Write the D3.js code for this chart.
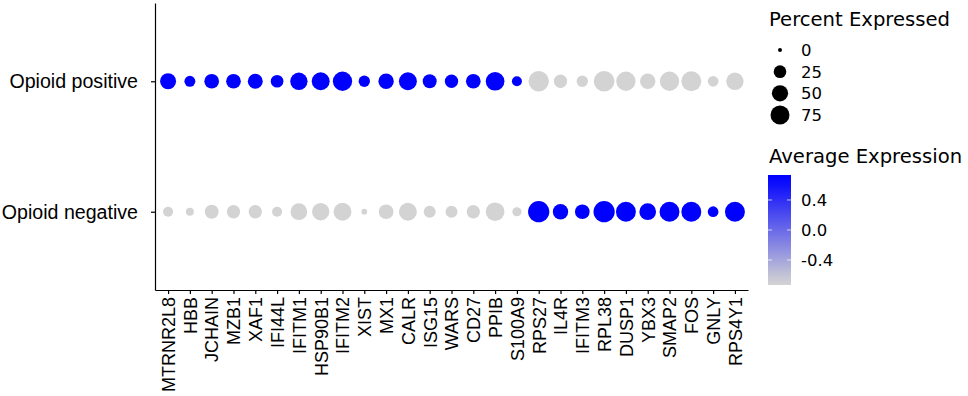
<!DOCTYPE html>
<html>
<head>
<meta charset="utf-8">
<script src="https://cdn.jsdelivr.net/npm/d3@7"></script>
<style>
  body { margin: 0; background: #fff; }
  svg { display: block; }
</style>
</head>
<body>
<svg id="chart"></svg>
<script>
const width = 968;
const height = 396;

// data
const genes = ["MTRNR2L8", "HBB", "JCHAIN", "MZB1", "XAF1", "IFI44L", "IFITM1", "HSP90B1", "IFITM2",
  "XIST", "MX1", "CALR", "ISG15", "WARS", "CD27", "PPIB", "S100A9", "RPS27", "IL4R", "IFITM3",
  "RPL38", "DUSP1", "YBX3", "SMAP2", "FOS", "GNLY", "RPS4Y1"];
const groups = ["Opioid positive", "Opioid negative"];

// percent expressed
const pctPositive = [48, 16, 38, 38, 40, 25, 59, 65, 78, 18, 43, 65, 33, 29, 38, 72, 12,
  89, 29, 18, 93, 78, 43, 78, 85, 15, 59];
const pctNegative = [12, 5, 33, 29, 29, 12, 54, 59, 65, 1, 38, 65, 21, 21, 29, 72, 9,
  99, 43, 38, 99, 85, 54, 85, 85, 15, 85];

// scaled average expression (two groups -> +/- 0.707)
const expPositive = [0.707, 0.707, 0.707, 0.707, 0.707, 0.707, 0.707, 0.707, 0.707, 0.707, 0.707,
  0.707, 0.707, 0.707, 0.707, 0.707, 0.707, -0.707, -0.707, -0.707, -0.707, -0.707, -0.707,
  -0.707, -0.707, -0.707, -0.707];
const expNegative = expPositive.map(v => -v);

const sizeBreaks = [0, 25, 50, 75];
const colorTicks = [0.4, 0.0, -0.4];

const margin = { top: 3, bottom: 106, left: 155, right: 220 };

const svg = d3.select("#chart")
  .attr("width", width)
  .attr("height", height);

const rows = [];
genes.forEach((g, i) => {
  rows.push({ gene: g, group: groups[0], pct: pctPositive[i], exp: expPositive[i] });
  rows.push({ gene: g, group: groups[1], pct: pctNegative[i], exp: expNegative[i] });
});

const xScale = d3.scalePoint()
  .domain(genes)
  .range([margin.left, width - margin.right])
  .padding(0.6);

const yScale = d3.scalePoint()
  .domain(groups)
  .range([margin.top, height - margin.bottom])
  .padding(0.6);

// radius ~ 2 + 0.866*sqrt(pct)
const rScale = p => 2 + 0.866 * Math.sqrt(p);

const colorScale = d3.scaleLinear()
  .domain([-0.707, 0.707])
  .range(["lightgrey", "blue"])
  .interpolate(d3.interpolateRgb);

// dots
svg.append("g")
  .selectAll("circle")
  .data(rows)
  .join("circle")
  .attr("cx", d => xScale(d.gene))
  .attr("cy", d => yScale(d.group))
  .attr("r", d => rScale(d.pct))
  .attr("fill", d => colorScale(d.exp));

// x axis
const xAxis = svg.append("g")
  .attr("transform", `translate(0, ${height - margin.bottom})`)
  .call(d3.axisBottom(xScale).tickSize(4).tickSizeOuter(0));
xAxis.select(".domain").attr("stroke", "#000").attr("stroke-width", 1.2);
xAxis.selectAll(".tick line").attr("stroke", "#000").attr("stroke-width", 1.2);
xAxis.selectAll(".tick text")
  .attr("font-family", "Liberation Sans, Arial, sans-serif")
  .attr("font-size", "18px")
  .attr("fill", "#000")
  .attr("text-anchor", "end")
  .attr("transform", "rotate(-90)")
  .attr("x", -7)
  .attr("y", 0)
  .attr("dy", "0.35em");

// y axis
const yAxis = svg.append("g")
  .attr("transform", `translate(${margin.left}, 0)`)
  .call(d3.axisLeft(yScale).tickSize(4).tickSizeOuter(0));
yAxis.select(".domain").attr("stroke", "#000").attr("stroke-width", 1.2);
yAxis.selectAll(".tick line").attr("stroke", "#000").attr("stroke-width", 1.2);
yAxis.selectAll(".tick text")
  .attr("font-family", "Liberation Sans, Arial, sans-serif")
  .attr("font-size", "19.6px")
  .attr("fill", "#000")
  .attr("x", -17);

// legend: percent expressed
const legendFont = "DejaVu Sans, sans-serif";
const lg = svg.append("g");
lg.append("text")
  .attr("x", 769)
  .attr("y", 26)
  .attr("font-family", legendFont)
  .attr("font-size", "19.6px")
  .text("Percent Expressed");

const sizeY = d3.scalePoint().domain(sizeBreaks).range([50, 115]);
lg.selectAll("circle")
  .data(sizeBreaks)
  .join("circle")
  .attr("cx", 780)
  .attr("cy", d => sizeY(d))
  .attr("r", d => rScale(d))
  .attr("fill", "#000");
lg.selectAll("text.lab")
  .data(sizeBreaks)
  .join("text")
  .attr("class", "lab")
  .attr("x", 801)
  .attr("y", d => sizeY(d))
  .attr("dy", "0.36em")
  .attr("font-family", legendFont)
  .attr("font-size", "16.5px")
  .text(d => d);

// legend: average expression colour bar
const cg = svg.append("g");
cg.append("text")
  .attr("x", 769)
  .attr("y", 163)
  .attr("font-family", legendFont)
  .attr("font-size", "19.6px")
  .text("Average Expression");

const barY = d3.scaleLinear().domain([-0.733, 0.733]).range([285, 175]);
const grad = svg.append("defs").append("linearGradient")
  .attr("id", "expGrad")
  .attr("x1", 0).attr("y1", 1).attr("x2", 0).attr("y2", 0);
d3.range(0, 1.0001, 0.1).forEach(t => {
  const v = -0.733 + t * 1.466;
  grad.append("stop")
    .attr("offset", t)
    .attr("stop-color", colorScale(Math.max(-0.707, Math.min(0.707, v))));
});
cg.append("rect")
  .attr("x", 768)
  .attr("y", barY(0.733))
  .attr("width", 23)
  .attr("height", barY(-0.733) - barY(0.733))
  .attr("fill", "url(#expGrad)");

cg.selectAll("line.tl")
  .data(colorTicks)
  .join("line")
  .attr("class", "tl")
  .attr("x1", 768).attr("x2", 772)
  .attr("y1", d => barY(d)).attr("y2", d => barY(d))
  .attr("stroke", "#fff").attr("stroke-opacity", 0.7);
cg.selectAll("line.tr")
  .data(colorTicks)
  .join("line")
  .attr("class", "tr")
  .attr("x1", 787).attr("x2", 791)
  .attr("y1", d => barY(d)).attr("y2", d => barY(d))
  .attr("stroke", "#fff").attr("stroke-opacity", 0.7);

cg.selectAll("text.lab")
  .data(colorTicks)
  .join("text")
  .attr("class", "lab")
  .attr("x", 801)
  .attr("y", d => barY(d))
  .attr("dy", "0.36em")
  .attr("font-family", legendFont)
  .attr("font-size", "16.5px")
  .text(d => d3.format(".1f")(d).replace("\u2212", "-"));
</script>
</body>
</html>
